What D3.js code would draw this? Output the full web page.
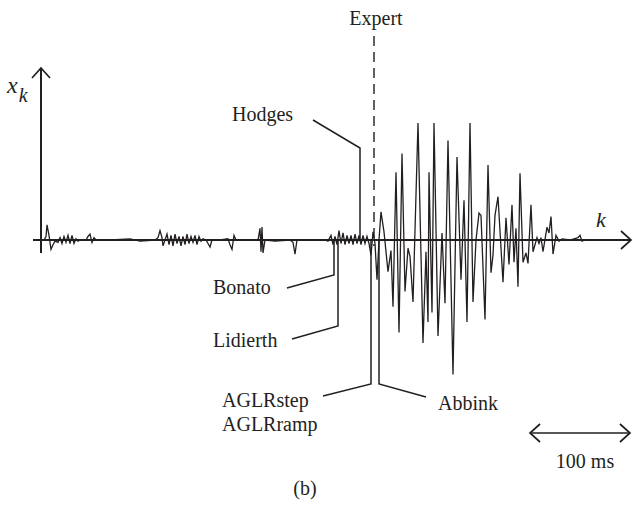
<!DOCTYPE html>
<html>
<head>
<meta charset="utf-8">
<script src="https://cdn.jsdelivr.net/npm/d3@7"></script>
<style>
  body { margin: 0; background: #fff; }
  text { font-family: "Liberation Serif", "DejaVu Serif", serif; fill: #231f20; }
</style>
</head>
<body>
<script>
// sample position (ms) and amplitude of the EMG trace
var kMs = [0,2,3,5,7,9,11,14,16,18,20,22,24,26,28,30,32,34,36,42,44,46,48,50,52,66,86,96,111,
  114,116,118,119,121,123,125,127,129,131,133,135,137,139,141,143,145,147,149,151,153,155,157,159,162,
  164,166,168,176,184,186,188,190,192,214,216,217,218,219,221,231,246,249,251,253,281,
  284,287,289,291,293,295,297,299,301,303,305,307,309,311,313,315,317,319,321,323,325,327,329,331,
  333,335,337,340,344,347,349,352,355,358,361,364,366,369,374,379,382,384,385,388,390,394,398,401,
  404,409,413,417,420,423,426,429,432,435,437,441,444,447,449,451,454,459,462,465,468,470,472,474,
  476,479,482,484,487,489,493,495,497,499,503,505,507,509,512,515,518,526,534,536,538,541,546];
var xk = [0,0.03,0.13,0.04,-0.08,-0.04,-0.01,-0.02,0.02,-0.03,0.03,-0.02,0.04,-0.03,0.04,-0.03,0.01,-0.01,0,0,0.03,0.05,-0.02,0.02,0,0,0.01,-0.01,0,
  0.02,0.08,0.02,-0.05,0,0.05,-0.04,0.04,-0.05,0.05,-0.03,0.03,-0.05,0.03,-0.04,0.05,-0.03,0.03,-0.02,0.04,-0.04,0.03,-0.01,0.01,0,
  -0.03,-0.06,0,0,0.01,-0.04,-0.08,0.04,0,0,0.10,-0.10,0.11,-0.11,0,-0.01,0,-0.02,-0.12,0,0,
  -0.01,0.04,-0.04,0.03,-0.04,0.08,-0.03,0.06,-0.04,0.04,-0.03,0.04,-0.04,0.05,-0.03,0.04,-0.04,0.04,-0.03,0.03,-0.03,-0.13,0.07,-0.03,
  -0.34,0,0.24,0.07,-0.27,-0.09,-0.57,0.58,-0.79,0.74,-0.44,-0.07,-0.14,-0.53,1.00,-0.88,-0.10,-0.70,0.58,-0.62,1.00,-0.82,0.06,-0.54,
  0.85,-1.15,0.71,-0.34,0.34,-0.70,1.00,-0.53,0,0.23,0.21,-0.68,0.64,-0.28,-0.13,0.21,0.37,-0.36,0.19,-0.21,0.30,-0.19,0.10,-0.40,
  0.57,-0.19,-0.11,-0.20,0.30,-0.10,0.02,-0.03,0.02,-0.10,0.11,0.06,0.20,-0.12,0.04,-0.01,0.01,0,0.02,0.04,-0.01,0,0];

// detected onsets (ms)
var detectors = ['Hodges', 'Bonato', 'Lidierth', 'AGLRstep', 'Abbink'];
var onsets = [316, 290, 294, 327, 335];
var expertOnset = 330;
var scaleMs = 100;

var W = 633, H = 510;
var svg = d3.select('body').append('svg').attr('width', W).attr('height', H);

var x = d3.scaleLinear().domain([0, 100]).range([44, 144]);
var y = d3.scaleLinear().domain([0, 1]).range([240, 123]);
var ink = '#231f20';

// open arrow heads
function arrowHead(px, py, dir) {
  var p;
  if (dir === 'up') p = [[px - 9, py + 10], [px, py], [px + 9, py + 10]];
  else if (dir === 'right') p = [[px - 10, py - 9], [px, py], [px - 10, py + 9]];
  else p = [[px + 10, py - 9], [px, py], [px + 10, py + 9]];
  svg.append('path').attr('d', d3.line()(p)).attr('fill', 'none')
    .attr('stroke', ink).attr('stroke-width', 1.7);
}
svg.append('line').attr('x1', 41).attr('x2', 41).attr('y1', 68).attr('y2', 253)
  .attr('stroke', ink).attr('stroke-width', 2);
arrowHead(41, 68, 'up');
svg.append('line').attr('x1', 33).attr('x2', 631).attr('y1', y(0)).attr('y2', y(0))
  .attr('stroke', ink).attr('stroke-width', 2);
arrowHead(631, y(0), 'right');

// signal
var pts = kMs.map(function(k, i) { return [x(k), y(xk[i])]; });
svg.append('path').attr('d', d3.line()(pts)).attr('fill', 'none')
  .attr('stroke', ink).attr('stroke-width', 1.3);

// expert onset
svg.append('line').attr('x1', x(expertOnset)).attr('x2', x(expertOnset))
  .attr('y1', 36).attr('y2', 246).attr('stroke', ink).attr('stroke-width', 1.4)
  .attr('stroke-dasharray', '10,6');
svg.append('text').attr('x', x(expertOnset) + 2).attr('y', 25).attr('text-anchor', 'middle')
  .attr('font-size', 20).text('Expert');

// label layout: text position, leader start, elbow height
var labelX = [232, 213, 213, 222, 438];
var labelY = [121, 294, 347, 407, 410];
var leadX = [313, 287, 292, 323, 426];
var leadY = [120, 288, 339, 396, 397];
var elbowY = [148, 275, 326, 384, 384];

detectors.forEach(function(name, i) {
  svg.append('text').attr('x', labelX[i]).attr('y', labelY[i]).attr('font-size', 20).text(name);
  var ox = x(onsets[i]);
  svg.append('path').attr('d', d3.line()([[leadX[i], leadY[i]], [ox, elbowY[i]], [ox, y(0)]]))
    .attr('fill', 'none').attr('stroke', ink).attr('stroke-width', 1.5);
});
svg.append('text').attr('x', 222).attr('y', 431).attr('font-size', 20).text('AGLRramp');

// axis labels
var xl = svg.append('text').attr('x', 7).attr('y', 93).attr('font-size', 24).attr('font-style', 'italic');
xl.append('tspan').text('x');
xl.append('tspan').attr('dx', 1).attr('dy', 9).attr('font-size', 20).text('k');
svg.append('text').attr('x', 596).attr('y', 227).attr('font-size', 22).attr('font-style', 'italic').text('k');

// time scale bar
var sb0 = 530;
svg.append('line').attr('x1', sb0).attr('x2', sb0 + x(scaleMs) - x(0)).attr('y1', 433).attr('y2', 433)
  .attr('stroke', ink).attr('stroke-width', 1.6);
arrowHead(sb0, 433, 'left');
arrowHead(sb0 + x(scaleMs) - x(0), 433, 'right');
svg.append('text').attr('x', 585).attr('y', 468).attr('text-anchor', 'middle').attr('font-size', 20).text('100 ms');

svg.append('text').attr('x', 305).attr('y', 495).attr('text-anchor', 'middle').attr('font-size', 20).text('(b)');
</script>
</body>
</html>
